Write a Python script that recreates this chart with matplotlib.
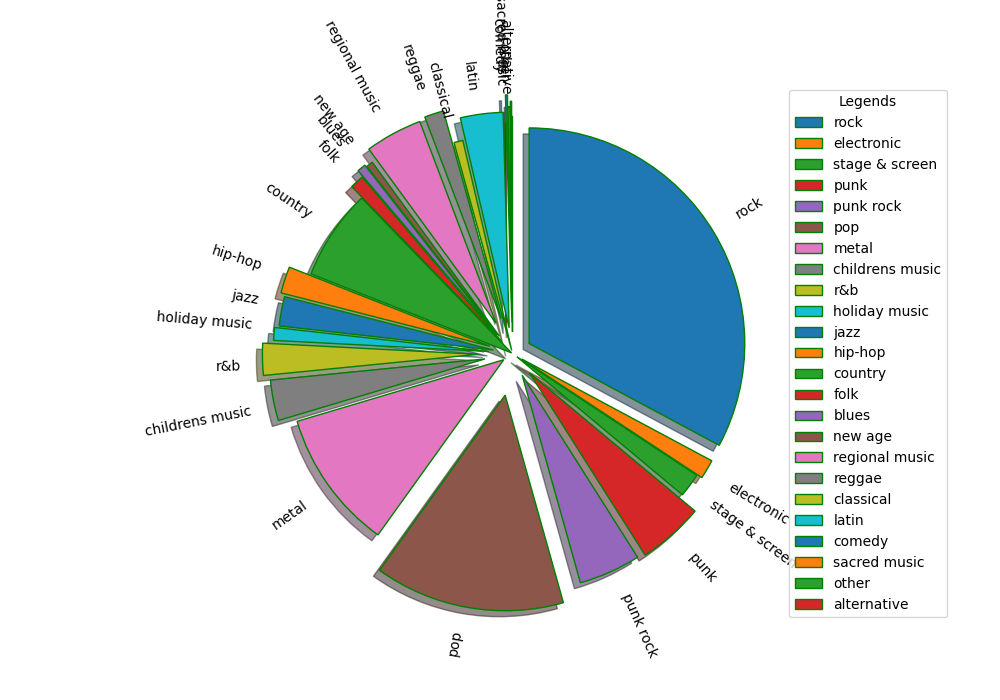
import matplotlib
matplotlib.use("Agg")
import matplotlib.pyplot as plt

genres = ["rock", "electronic", "stage & screen", "punk", "punk rock", "pop", "metal",
          "childrens music", "r&b", "holiday music", "jazz", "hip-hop", "country", "folk",
          "blues", "new age", "regional music", "reggae", "classical", "latin", "comedy",
          "sacred music", "other", "alternative"]
shares = [32.9, 1.45, 1.8, 4.95, 4.65, 14.3, 10.5, 3.05, 2.4, 0.96, 2.2, 2.0, 6.8, 1.05,
          0.65, 0.5, 4.3, 1.45, 0.67, 3.2, 0.15, 0.15, 0.1, 0.05]
explode = [0.09, 0.05, 0.025, 0.12, 0.11, 0.196, 0.05, 0.13, 0.16, 0.11, 0.09, 0.11, 0.005,
           0.075, 0.11, 0.1, 0.16, 0.17, 0.015, 0.12, 0.2, 0.145, 0.17, 0.1]

fig, ax = plt.subplots(figsize=(10, 7), dpi=100)
ax.pie(shares, labels=genres, explode=explode, shadow=True, startangle=90,
       counterclock=False, rotatelabels=True,
       wedgeprops={"edgecolor": "green"})
ax.legend(title="Legends", loc="center left", bbox_to_anchor=(1, 0.5))
fig.savefig("out.png", dpi=100)
